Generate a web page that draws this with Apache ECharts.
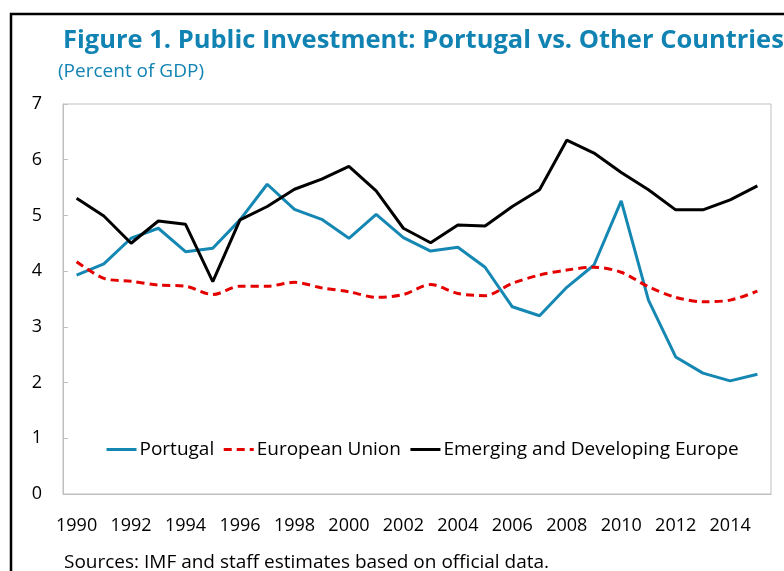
<!DOCTYPE html>
<html>
<head>
<meta charset="utf-8">
<script src="https://cdn.jsdelivr.net/npm/echarts@6/dist/echarts.min.js"></script>
<style>
html,body{margin:0;padding:0;background:#fff;}
#chart{width:784px;height:571px;}
</style>
</head>
<body>
<div id="chart"></div>
<script>
var years = ['1990','1991','1992','1993','1994','1995','1996','1997','1998','1999','2000','2001','2002','2003','2004','2005','2006','2007','2008','2009','2010','2011','2012','2013','2014','2015'];
var portugal = [3.93,4.13,4.59,4.77,4.35,4.41,4.92,5.56,5.11,4.93,4.59,5.02,4.60,4.36,4.43,4.07,3.36,3.20,3.71,4.11,5.26,3.48,2.46,2.17,2.03,2.15];
var europeanUnion = [4.17,3.87,3.82,3.75,3.73,3.58,3.73,3.73,3.80,3.70,3.63,3.53,3.58,3.76,3.60,3.56,3.78,3.93,4.02,4.07,3.98,3.72,3.53,3.45,3.48,3.64];
var emergingEurope = [5.31,4.99,4.50,4.90,4.84,3.81,4.92,5.16,5.47,5.65,5.88,5.44,4.77,4.51,4.83,4.81,5.16,5.46,6.35,6.12,5.77,5.46,5.10,5.10,5.28,5.53];

var FONT = '"Open Sans", sans-serif';
var chart = echarts.init(document.getElementById('chart'), null, {renderer:'canvas'});
chart.setOption({
  animation: false,
  backgroundColor: '#ffffff',
  textStyle: {fontFamily: FONT},
  title: [
    {text: 'Figure 1. Public Investment: Portugal vs. Other Countries', left: 58, top: 23,
     textStyle: {fontFamily: FONT, fontSize: 25.5, fontWeight: 'bold', color: '#1183B3'}},
    {text: '(Percent of GDP)', left: 53, top: 57,
     textStyle: {fontFamily: FONT, fontSize: 19, fontWeight: 'normal', color: '#1183B3'}}
  ],
  grid: {left: 63, right: 13, top: 104, bottom: 77, show: true, borderColor: '#BFBFBF', borderWidth: 1, containLabel: false, outerBoundsMode: 'none'},
  legend: {
    left: 100, top: 435, itemWidth: 30, itemHeight: 14, itemGap: 8,
    itemStyle: {opacity: 0},
    lineStyle: {width: 3},
    textStyle: {fontFamily: FONT, fontSize: 19, color: '#000', padding: [0,0,0,-2]},
    data: ['Portugal','European Union','Emerging and Developing Europe']
  },
  xAxis: {
    type: 'category', data: years, boundaryGap: true,
    axisLine: {lineStyle: {color: '#BFBFBF', width: 1}},
    axisTick: {inside: true, length: 5, interval: 1, lineStyle: {color: '#BFBFBF'}},
    axisLabel: {interval: 1, margin: 23, fontSize: 18, color: '#000', fontFamily: FONT},
    splitLine: {show: false}
  },
  yAxis: {
    type: 'value', min: 0, max: 7, interval: 1,
    axisLine: {show: true, lineStyle: {color: '#BFBFBF', width: 1}},
    axisTick: {show: true, inside: true, length: 5, lineStyle: {color: '#BFBFBF'}},
    axisLabel: {margin: 21, fontSize: 18, color: '#000', fontFamily: FONT},
    splitLine: {show: false}
  },
  series: [
    {name: 'Portugal', type: 'line', data: portugal, symbol: 'none', showSymbol: false,
     lineStyle: {color: '#1587B3', width: 3}, itemStyle: {color: '#1587B3'}},
    {name: 'European Union', type: 'line', data: europeanUnion, symbol: 'none', showSymbol: false, smooth: 0.3,
     lineStyle: {color: '#E50000', width: 3, type: [8,5]}, itemStyle: {color: '#E50000'}},
    {name: 'Emerging and Developing Europe', type: 'line', data: emergingEurope, symbol: 'none', showSymbol: false,
     lineStyle: {color: '#000000', width: 3}, itemStyle: {color: '#000000'}}
  ],
  graphic: [
    {type: 'rect', silent: true, shape: {x: 11, y: 14, width: 800, height: 600},
     style: {fill: 'none', stroke: '#000', lineWidth: 2.5}},
    {type: 'text', left: 64, top: 553,
     style: {text: 'Sources: IMF and staff estimates based on official data.', font: '19px "Open Sans", sans-serif', fill: '#000'}}
  ]
});
</script>
</body>
</html>
